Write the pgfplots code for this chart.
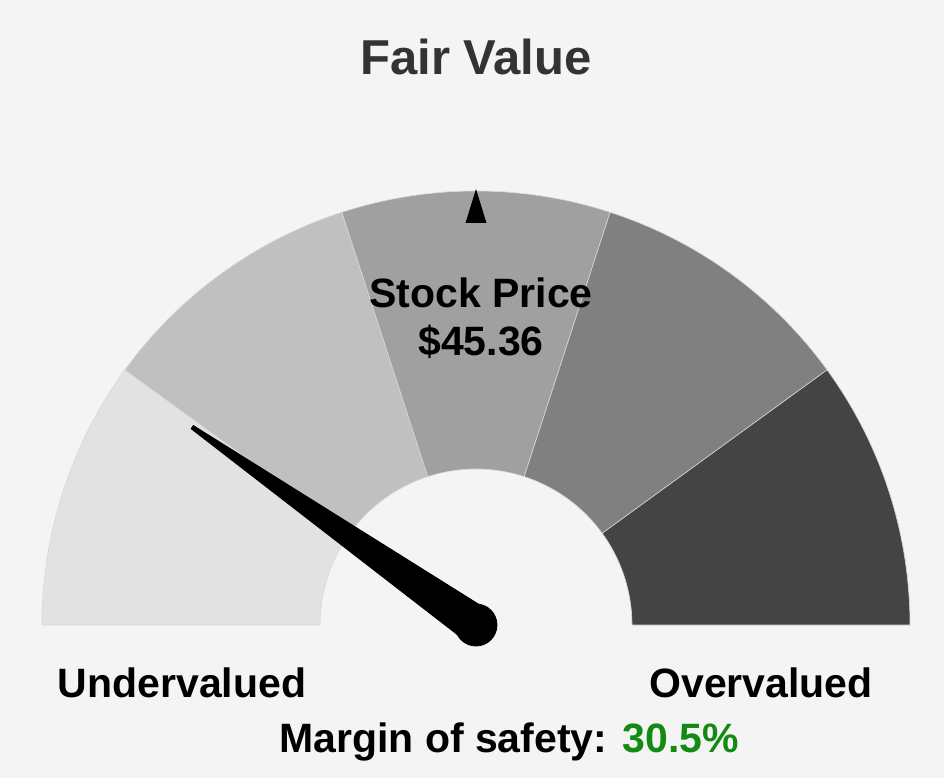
\documentclass[border=0pt]{standalone}
\usepackage{pgfplots}
\pgfplotsset{compat=1.18}
\usetikzlibrary{calc}
\usepackage{fontspec}
\setmainfont{Liberation Sans}
\definecolor{bg}{HTML}{F4F4F4}
\definecolor{sA}{HTML}{E2E2E2}
\definecolor{sB}{HTML}{C0C0C0}
\definecolor{sC}{HTML}{A0A0A0}
\definecolor{sD}{HTML}{808080}
\definecolor{sE}{HTML}{444444}
\definecolor{ttl}{HTML}{333333}
\definecolor{mgreen}{HTML}{138A13}
\definecolor{edge}{HTML}{D8D8D8}
\begin{document}
\begin{tikzpicture}
\begin{axis}[x=0.5pt,y=0.5pt,xmin=0,xmax=944,ymin=0,ymax=778,
  hide axis,clip=false,scale only axis]
\fill[bg] (axis cs:0,0) rectangle (axis cs:944,778);
% gauge bands: centre (476,153), outer radius 434 px = 217pt, inner 156 px = 78pt
\filldraw[fill=sA,draw=edge,line width=0.3pt] (axis cs:476,153) ++(180:217pt) arc[start angle=180,end angle=144,radius=217pt] -- ($(axis cs:476,153)+(144:78pt)$) arc[start angle=144,end angle=180,radius=78pt] -- cycle;
\filldraw[fill=sB,draw=edge,line width=0.3pt] (axis cs:476,153) ++(144:217pt) arc[start angle=144,end angle=108,radius=217pt] -- ($(axis cs:476,153)+(108:78pt)$) arc[start angle=108,end angle=144,radius=78pt] -- cycle;
\filldraw[fill=sC,draw=edge,line width=0.3pt] (axis cs:476,153) ++(108:217pt) arc[start angle=108,end angle=72,radius=217pt] -- ($(axis cs:476,153)+(72:78pt)$) arc[start angle=72,end angle=108,radius=78pt] -- cycle;
\filldraw[fill=sD,draw=edge,line width=0.3pt] (axis cs:476,153) ++(72:217pt) arc[start angle=72,end angle=36,radius=217pt] -- ($(axis cs:476,153)+(36:78pt)$) arc[start angle=36,end angle=72,radius=78pt] -- cycle;
\filldraw[fill=sE,draw=edge,line width=0.3pt] (axis cs:476,153) ++(36:217pt) arc[start angle=36,end angle=0,radius=217pt] -- ($(axis cs:476,153)+(0:78pt)$) arc[start angle=0,end angle=36,radius=78pt] -- cycle;
% top marker
\addplot[fill=black,draw=none] coordinates {(465.5,555) (486.5,555) (476,589)} -- cycle;
% needle
\addplot[fill=black,draw=black,line join=round] coordinates {(486.9,168.6) (193.3,352.5) (191.1,349.3) (465.1,137.4)} -- cycle;
\addplot[only marks,mark=*,mark size=10.5pt,black] coordinates {(476,153)};
% texts
\node[anchor=base,text=ttl,font=\bfseries\fontsize{24.5}{28}\selectfont] at (axis cs:476,703) {Fair Value};
\node[anchor=base,font=\bfseries\fontsize{20.5}{24}\selectfont] at (axis cs:481,470) {Stock Price};
\node[anchor=base,font=\bfseries\fontsize{20.5}{24}\selectfont] at (axis cs:481,422) {\$45.36};
\node[anchor=base,font=\bfseries\fontsize{20.5}{24}\selectfont] at (axis cs:182,81) {Undervalued};
\node[anchor=base,font=\bfseries\fontsize{20.5}{24}\selectfont] at (axis cs:761,81) {Overvalued};
\node[anchor=base,font=\bfseries\fontsize{20.5}{24}\selectfont] at (axis cs:509,26) {Margin of safety: \textcolor{mgreen}{30.5\%}};
\end{axis}
\end{tikzpicture}
\end{document}
